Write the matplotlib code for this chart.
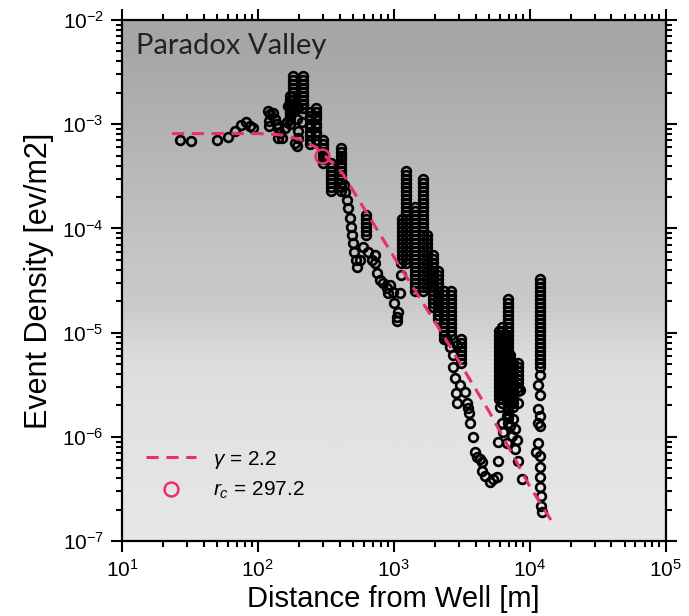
import numpy as np
import matplotlib
matplotlib.use("Agg")
import matplotlib.pyplot as plt
from matplotlib.lines import Line2D

# scattered single events (distance m, density ev/m2)
single_x = [26.7, 32.1, 50, 60, 67.7, 75, 81.6, 87.3, 91.9,
            118, 120, 120, 122, 129, 133, 138, 140, 145, 150, 140, 158, 163,
            166, 181, 197, 214, 172, 194, 211, 197, 197, 194, 187,
            429, 437, 451, 459, 474, 483, 491, 500, 508, 526, 535, 562,
            592, 644, 689, 725, 725, 750, 789, 830, 888, 935, 904, 984, 1107, 999, 1070, 1052, 1052,
            1125, 1125,
            2716, 2810, 3055, 2858, 2905, 3325, 3440, 3500, 3560, 3620, 3810, 3945, 4075, 4285,
            4435, 4435, 4665, 5080, 5345, 5715, 5820,
            2452, 2580, 2714, 2905,
            6012, 6225, 5820, 6325, 6767, 7119, 7490, 7760, 8020, 7760, 8160, 8730, 6767, 7380, 8431, 8160,
            11850, 11850, 11550, 11850, 11550, 11850, 11550, 11850, 11550, 11070, 11850, 11850,
            12000, 11850, 12200, 12200, 12400]
single_y = [7.13e-4, 6.97e-4, 7.13e-4, 7.6e-4, 8.7e-4, 9.9e-4, 1.04e-3, 9.7e-4, 9.1e-4,
            1.35e-3, 9.7e-4, 1.08e-3, 1.24e-3, 1.29e-3, 1.13e-3, 1.01e-3, 9.1e-4, 8.3e-4, 7.45e-4, 7.45e-4, 9.1e-4, 1.04e-3,
            1.51e-3, 1.44e-3, 1.44e-3, 1.57e-3, 1.29e-3, 1.13e-3, 1.04e-3, 8.7e-4, 7.45e-4, 6.24e-4, 6.67e-4,
            2.6e-4, 2.22e-4, 1.86e-4, 1.56e-4, 1.25e-4, 1.03e-4, 8.6e-5, 7.2e-5, 5.9e-5, 4.97e-5, 4.26e-5, 4.97e-5,
            6.6e-5, 5.9e-5, 4.97e-5, 5.5e-5, 4.65e-5, 3.73e-5, 3.2e-5, 2.99e-5, 2.69e-5, 2.86e-5, 2.41e-5, 2.46e-5, 2.41e-5,
            1.93e-5, 1.58e-5, 1.42e-5, 1.28e-5,
            4.65e-5, 3.57e-5,
            4.71e-6, 3.7e-6, 3.17e-6, 2.66e-6, 2.13e-6, 2.72e-6, 2.13e-6, 1.91e-6, 1.71e-6, 1.37e-6, 9.9e-7, 7.2e-7, 6.35e-7, 6.1e-7,
            5.7e-7, 4.67e-7, 4.18e-7, 3.66e-7, 3.92e-7, 4.09e-7, 5.82e-7,
            8.5e-6, 7.3e-6, 6.1e-6, 7.6e-6,
            1.95e-6, 1.37e-6, 9.0e-7, 1.1e-6, 1.57e-6, 1.26e-6, 1.47e-6, 1.18e-6, 9.4e-7, 7.6e-7, 5.8e-7, 3.92e-7, 8.8e-7, 1.01e-6, 2.84e-6, 2.13e-6,
            4.71e-6, 3.95e-6, 3.17e-6, 2.54e-6, 1.83e-6, 1.57e-6, 1.37e-6, 1.26e-6, 8.8e-7, 7.1e-7, 6.5e-7, 5.1e-7,
            4.09e-7, 3.28e-7, 2.69e-7, 2.16e-7, 1.89e-7]

# dense vertical streaks: one distance, many densities
streak_x = [181, 172, 214, 241, 268, 304, 344, 408, 623,
            1230, 1150, 1440, 1640, 1750, 1935, 2110, 2330, 2650, 3130,
            5900, 6300, 6600, 6890, 7150, 7500, 8160, 11850]
streak_y = [
    [2.92e-3, 2.67e-3, 2.44e-3, 2.24e-3, 2.05e-3, 1.88e-3, 1.72e-3, 1.57e-3, 1.44e-3, 1.32e-3],
    [1.88e-3, 1.72e-3, 1.57e-3, 1.44e-3, 1.32e-3, 1.21e-3, 1.11e-3, 1.01e-3],
    [2.92e-3, 2.67e-3, 2.44e-3, 2.24e-3, 2.05e-3, 1.88e-3, 1.72e-3, 1.57e-3, 1.44e-3],
    [1.32e-3, 1.21e-3, 1.11e-3, 1.01e-3, 9.3e-4, 8.5e-4, 7.8e-4, 7.13e-4, 6.5e-4],
    [1.44e-3, 1.32e-3, 1.21e-3, 1.11e-3, 1.01e-3, 9.3e-4, 8.5e-4, 7.8e-4, 7.13e-4],
    [7.13e-4, 6.5e-4, 5.97e-4, 5.47e-4, 5.0e-4, 4.59e-4, 4.2e-4],
    [4.2e-4, 3.85e-4, 3.52e-4, 3.23e-4, 2.95e-4, 2.7e-4, 2.48e-4, 2.27e-4],
    [5.97e-4, 5.47e-4, 5.0e-4, 4.59e-4, 4.2e-4, 3.85e-4, 3.52e-4, 3.23e-4, 2.95e-4, 2.7e-4, 2.48e-4, 2.27e-4],
    [1.34e-4, 1.22e-4, 1.12e-4, 1.03e-4, 9.4e-5, 8.6e-5],
    [3.52e-4, 3.23e-4, 2.95e-4, 2.7e-4, 2.48e-4, 2.27e-4, 2.08e-4, 1.9e-4, 1.74e-4, 1.59e-4, 1.46e-4, 1.34e-4,
     1.22e-4, 1.12e-4, 1.03e-4, 9.4e-5, 8.6e-5, 7.9e-5, 7.2e-5, 6.6e-5, 6.05e-5, 5.5e-5, 5.08e-5, 4.65e-5],
    [1.22e-4, 1.12e-4, 1.03e-4, 9.4e-5, 8.6e-5, 7.9e-5, 7.2e-5, 6.6e-5, 6.05e-5, 5.5e-5, 5.08e-5],
    [1.59e-4, 1.46e-4, 1.34e-4, 1.22e-4, 1.12e-4, 1.03e-4, 9.4e-5, 8.6e-5, 7.9e-5, 7.2e-5, 6.6e-5, 6.05e-5,
     5.5e-5, 5.08e-5, 4.65e-5, 4.26e-5, 3.9e-5, 3.57e-5, 3.27e-5, 2.99e-5, 2.74e-5, 2.51e-5],
    [2.95e-4, 2.7e-4, 2.48e-4, 2.27e-4, 2.08e-4, 1.9e-4, 1.74e-4, 1.59e-4, 1.46e-4, 1.34e-4, 1.22e-4, 1.12e-4,
     1.03e-4, 9.4e-5, 8.6e-5, 7.9e-5, 7.2e-5, 6.6e-5, 6.05e-5, 5.5e-5, 5.08e-5, 4.65e-5, 4.26e-5, 3.9e-5,
     3.57e-5, 3.27e-5, 2.99e-5, 2.74e-5, 2.51e-5],
    [8.6e-5, 7.9e-5, 7.2e-5, 6.6e-5, 6.05e-5, 5.5e-5, 5.08e-5, 4.65e-5, 4.26e-5, 3.9e-5, 3.57e-5, 3.27e-5, 2.99e-5, 2.74e-5],
    [5.5e-5, 5.08e-5, 4.65e-5, 4.26e-5, 3.9e-5, 3.57e-5, 3.27e-5, 2.99e-5, 2.74e-5, 2.51e-5, 2.3e-5, 2.1e-5, 1.93e-5, 1.77e-5],
    [3.9e-5, 3.57e-5, 3.27e-5, 2.99e-5, 2.74e-5, 2.51e-5, 2.3e-5, 2.1e-5, 1.93e-5, 1.77e-5, 1.62e-5, 1.48e-5, 1.36e-5],
    [2.51e-5, 2.3e-5, 2.1e-5, 1.93e-5, 1.77e-5, 1.62e-5, 1.48e-5, 1.36e-5, 1.24e-5, 1.14e-5, 1.04e-5, 9.5e-6, 8.7e-6],
    [2.51e-5, 2.3e-5, 2.1e-5, 1.93e-5, 1.77e-5, 1.62e-5, 1.48e-5, 1.36e-5, 1.24e-5, 1.14e-5, 1.04e-5, 9.5e-6],
    [8.7e-6, 8.0e-6, 7.3e-6, 6.7e-6, 6.1e-6, 5.6e-6, 5.14e-6],
    [1.04e-5, 9.5e-6, 8.7e-6, 8.0e-6, 7.3e-6, 6.7e-6, 6.1e-6, 5.6e-6, 5.14e-6, 4.71e-6, 4.31e-6, 3.95e-6,
     3.62e-6, 3.31e-6, 3.03e-6, 2.78e-6, 2.54e-6, 2.33e-6],
    [1.14e-5, 1.04e-5, 9.5e-6, 8.7e-6, 8.0e-6, 7.3e-6, 6.7e-6, 6.1e-6, 5.6e-6, 5.14e-6, 4.71e-6, 4.31e-6,
     3.95e-6, 3.62e-6, 3.31e-6, 3.03e-6, 2.78e-6, 2.54e-6, 2.33e-6, 2.13e-6],
    [9.5e-6, 8.7e-6, 8.0e-6, 7.3e-6, 6.7e-6, 6.1e-6, 5.6e-6, 5.14e-6, 4.71e-6, 4.31e-6, 3.95e-6, 3.62e-6,
     3.31e-6, 3.03e-6, 2.78e-6, 2.54e-6],
    [2.1e-5, 1.93e-5, 1.77e-5, 1.62e-5, 1.48e-5, 1.36e-5, 1.24e-5, 1.14e-5, 1.04e-5, 9.5e-6, 8.7e-6, 8.0e-6,
     7.3e-6, 6.7e-6, 6.1e-6, 5.6e-6, 5.14e-6, 4.71e-6, 4.31e-6, 3.95e-6, 3.62e-6, 3.31e-6, 3.03e-6, 2.78e-6,
     2.54e-6, 2.33e-6, 2.13e-6, 1.95e-6, 1.79e-6, 1.64e-6, 1.5e-6, 1.37e-6],
    [6.1e-6, 5.6e-6, 5.14e-6, 4.71e-6, 4.31e-6, 3.95e-6, 3.62e-6, 3.31e-6, 3.03e-6, 2.78e-6, 2.54e-6, 2.33e-6],
    [5.14e-6, 4.71e-6, 4.31e-6, 3.95e-6, 3.62e-6, 3.31e-6, 3.03e-6, 2.78e-6, 2.54e-6, 2.33e-6, 2.13e-6, 1.95e-6],
    [5.14e-6, 4.71e-6, 4.31e-6, 3.95e-6, 3.62e-6, 3.31e-6, 3.03e-6, 2.78e-6],
    [3.27e-5, 2.99e-5, 2.74e-5, 2.51e-5, 2.3e-5, 2.1e-5, 1.93e-5, 1.77e-5, 1.62e-5, 1.48e-5, 1.36e-5, 1.24e-5,
     1.14e-5, 1.04e-5, 9.5e-6, 8.7e-6, 8.0e-6, 7.3e-6, 6.7e-6, 6.1e-6, 5.6e-6, 5.14e-6],
]

# fitted model
fit_x = [23.3, 103.5, 150, 204, 262, 321, 421, 500, 1069, 2255, 5080, 10000, 14500]
fit_y = [8.13e-4, 8.13e-4, 7.9e-4, 7.13e-4, 6.11e-4, 4.8e-4, 3.37e-4, 2.32e-4, 4.65e-5, 9.96e-6, 1.71e-6, 3.36e-7, 1.55e-7]
gamma = 2.2
rc = 297.2
rc_density = 5.0e-4

# background shading, top to bottom
bg_levels = [0.65, 0.68, 0.71, 0.74, 0.77, 0.79, 0.86, 0.88, 0.89, 0.90]

RED = '#e8306a'

plt.rcParams['font.family'] = ['Liberation Sans', 'DejaVu Sans']
plt.rcParams['mathtext.fontset'] = 'custom'
plt.rcParams['mathtext.rm'] = 'Liberation Sans'
plt.rcParams['mathtext.it'] = 'Liberation Sans:italic'

xs, ys = list(single_x), list(single_y)
for sx, col in zip(streak_x, streak_y):
    xs += [sx] * len(col)
    ys += col

fig = plt.figure(figsize=(6.89, 6.16), dpi=100)
ax = fig.add_axes([0.177, 0.1218, 0.789, 0.8457])
ax.set_xscale('log')
ax.set_yscale('log')

shade = np.array(bg_levels).reshape(-1, 1)
ax.imshow(shade, extent=[0, 1, 0, 1], transform=ax.transAxes, cmap='gray',
          vmin=0, vmax=1, aspect='auto', interpolation='bilinear', zorder=0)

ax.plot(xs, ys, 'o', ls='none', mfc='none', mec='black', ms=6.3, mew=1.9, zorder=2)
ax.plot(fit_x, fit_y, color=RED, lw=2.2, dashes=(4, 2.5), zorder=3)
ax.plot([rc], [rc_density], 'o', mfc='none', mec=RED, ms=10, mew=1.8, zorder=4)

ax.set_xlim(10, 1e5)
ax.set_ylim(1e-7, 1e-2)

ax.set_xlabel('Distance from Well [m]', fontsize=21, labelpad=3)
ax.set_ylabel('Event Density [ev/m2]', fontsize=22, labelpad=6)
ax.tick_params(which='both', direction='out', top=True, right=True, width=1.5)
ax.tick_params(which='major', length=8, labelsize=15, pad=5)
ax.tick_params(which='minor', length=4)
for s in ax.spines.values():
    s.set_linewidth(1.6)

ax.text(0.025, 0.975, 'Paradox Valley', transform=ax.transAxes, ha='left', va='top',
        fontsize=21, family='Lato', color='#222222', zorder=5)

handles = [Line2D([], [], color=RED, lw=2.2, dashes=(4, 2.5)),
           Line2D([], [], marker='o', ls='none', mec=RED, mfc='none', ms=10, mew=1.8)]
ax.legend(handles, [r'$\gamma$ = %.1f' % gamma, r'$r_c$ = %.1f' % rc], loc='lower left',
          frameon=False, fontsize=15, handlelength=2.4, handletextpad=0.8,
          bbox_to_anchor=(0.01, 0.04), labelspacing=0.45)

fig.savefig('out.png', dpi=100)
